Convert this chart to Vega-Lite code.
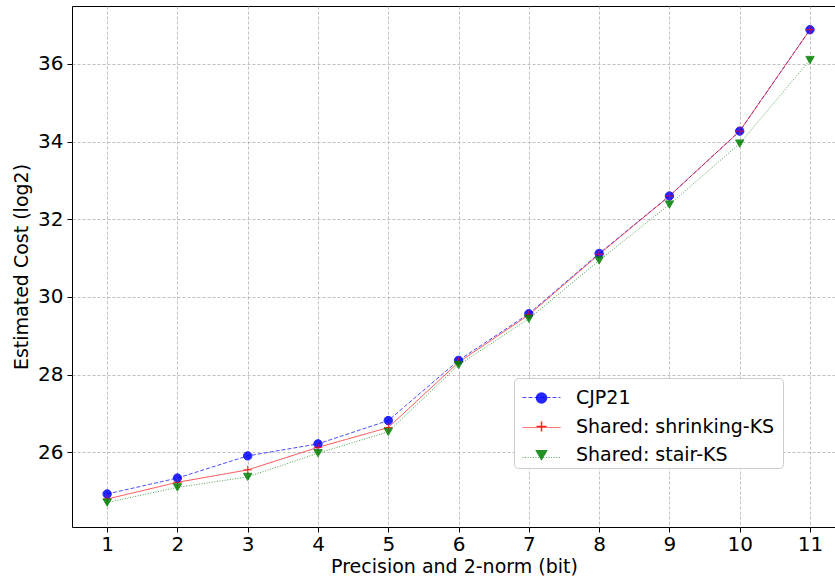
{
  "$schema": "https://vega.github.io/schema/vega-lite/v6.json",
  "width": 764,
  "height": 521,
  "autosize": {"type": "none"},
  "padding": {"left": 72, "top": 6, "right": 0, "bottom": 51},
  "background": "white",
  "config": {
    "font": "DejaVu Sans",
    "view": {"stroke": "black", "strokeWidth": 1},
    "axis": {
      "domain": false,
      "tickColor": "black",
      "tickSize": 5,
      "labelColor": "black",
      "labelFontSize": 20,
      "titleFontSize": 19,
      "titleFontWeight": "normal",
      "titleColor": "black",
      "gridColor": "#b0b0b0",
      "gridDash": [3, 2],
      "gridWidth": 0.8
    }
  },
  "data": {
    "values": [
      {"series": "CJP21", "bit": 1, "cost": 24.93},
      {"series": "CJP21", "bit": 2, "cost": 25.34},
      {"series": "CJP21", "bit": 3, "cost": 25.91},
      {"series": "CJP21", "bit": 4, "cost": 26.22},
      {"series": "CJP21", "bit": 5, "cost": 26.82},
      {"series": "CJP21", "bit": 6, "cost": 28.37},
      {"series": "CJP21", "bit": 7, "cost": 29.57},
      {"series": "CJP21", "bit": 8, "cost": 31.12},
      {"series": "CJP21", "bit": 9, "cost": 32.6},
      {"series": "CJP21", "bit": 10, "cost": 34.27},
      {"series": "CJP21", "bit": 11, "cost": 36.88},
      {"series": "Shared: shrinking-KS", "bit": 1, "cost": 24.8},
      {"series": "Shared: shrinking-KS", "bit": 2, "cost": 25.23},
      {"series": "Shared: shrinking-KS", "bit": 3, "cost": 25.55},
      {"series": "Shared: shrinking-KS", "bit": 4, "cost": 26.13},
      {"series": "Shared: shrinking-KS", "bit": 5, "cost": 26.64},
      {"series": "Shared: shrinking-KS", "bit": 6, "cost": 28.32},
      {"series": "Shared: shrinking-KS", "bit": 7, "cost": 29.54},
      {"series": "Shared: shrinking-KS", "bit": 8, "cost": 31.1},
      {"series": "Shared: shrinking-KS", "bit": 9, "cost": 32.6},
      {"series": "Shared: shrinking-KS", "bit": 10, "cost": 34.27},
      {"series": "Shared: shrinking-KS", "bit": 11, "cost": 36.88},
      {"series": "Shared: stair-KS", "bit": 1, "cost": 24.71},
      {"series": "Shared: stair-KS", "bit": 2, "cost": 25.1},
      {"series": "Shared: stair-KS", "bit": 3, "cost": 25.37},
      {"series": "Shared: stair-KS", "bit": 4, "cost": 25.98},
      {"series": "Shared: stair-KS", "bit": 5, "cost": 26.53},
      {"series": "Shared: stair-KS", "bit": 6, "cost": 28.25},
      {"series": "Shared: stair-KS", "bit": 7, "cost": 29.44},
      {"series": "Shared: stair-KS", "bit": 8, "cost": 30.94},
      {"series": "Shared: stair-KS", "bit": 9, "cost": 32.38},
      {"series": "Shared: stair-KS", "bit": 10, "cost": 33.95},
      {"series": "Shared: stair-KS", "bit": 11, "cost": 36.1}
    ]
  },
  "encoding": {
    "x": {
      "field": "bit",
      "type": "quantitative",
      "scale": {"domain": [0.5, 11.37], "nice": false, "zero": false},
      "axis": {"values": [1, 2, 3, 4, 5, 6, 7, 8, 9, 10, 11], "format": "d", "title": "Precision and 2-norm (bit)", "labelPadding": 2, "titlePadding": 3}
    },
    "y": {
      "field": "cost",
      "type": "quantitative",
      "scale": {"domain": [24.08, 37.49], "nice": false, "zero": false},
      "axis": {"values": [26, 28, 30, 32, 34, 36], "title": "Estimated Cost (log2)", "labelPadding": 4, "titlePadding": 6}
    }
  },
  "layer": [
    {
      "mark": {"type": "line", "strokeWidth": 1, "opacity": 0.7},
      "encoding": {
        "color": {
          "field": "series",
          "type": "nominal",
          "scale": {"domain": ["CJP21", "Shared: shrinking-KS", "Shared: stair-KS"], "range": ["#0000ff", "#ff0000", "#008000"]},
          "legend": {"orient": "none", "legendX": 442, "legendY": 372, "title": null, "symbolType": "stroke", "symbolSize": 1444, "symbolStrokeWidth": 1, "symbolOffset": 8, "labelFontSize": 19, "labelOpacity": 0, "labelLimit": 400, "labelOffset": 23, "fillColor": "white", "strokeColor": "#cccccc", "cornerRadius": 4, "padding": 0, "rowPadding": -10.5}
        },
        "strokeDash": {
          "field": "series",
          "type": "nominal",
          "scale": {"domain": ["CJP21", "Shared: shrinking-KS", "Shared: stair-KS"], "range": [[4, 2], [1, 0], [1, 1.6]]},
          "legend": {"orient": "none", "legendX": 442, "legendY": 372, "title": null, "symbolType": "stroke", "symbolSize": 1444, "symbolStrokeWidth": 1, "symbolOffset": 8, "labelFontSize": 19, "labelOpacity": 0, "labelLimit": 400, "labelOffset": 23, "fillColor": "white", "strokeColor": "#cccccc", "cornerRadius": 4, "padding": 0, "rowPadding": -10.5}
        }
      }
    },
    {
      "mark": {"type": "point", "filled": true, "size": 70, "strokeWidth": 1, "opacity": 0.85},
      "encoding": {
        "color": {
          "field": "series",
          "type": "nominal",
          "scale": {"domain": ["CJP21", "Shared: shrinking-KS", "Shared: stair-KS"], "range": ["#0000ff", "#ff0000", "#008000"]},
          "legend": {"orient": "none", "legendX": 442, "legendY": 382.5, "title": null, "labelFontSize": 19, "labelColor": "black", "labelLimit": 400, "padding": 0, "rowPadding": 8.5, "labelOffset": 25, "symbolOffset": 18}
        },
        "stroke": {
          "field": "series",
          "type": "nominal",
          "scale": {"domain": ["CJP21", "Shared: shrinking-KS", "Shared: stair-KS"], "range": ["#0000ff", "#ff0000", "#008000"]},
          "legend": {"orient": "none", "legendX": 442, "legendY": 382.5, "title": null, "labelFontSize": 19, "labelColor": "black", "labelLimit": 400, "padding": 0, "rowPadding": 8.5, "labelOffset": 25, "symbolOffset": 18}
        },
        "shape": {
          "field": "series",
          "type": "nominal",
          "scale": {"domain": ["CJP21", "Shared: shrinking-KS", "Shared: stair-KS"], "range": ["circle", "M-1,0H1M0,-1V1", "triangle-down"]},
          "legend": {"orient": "none", "legendX": 442, "legendY": 382.5, "title": null, "labelFontSize": 19, "labelColor": "black", "labelLimit": 400, "padding": 0, "rowPadding": 8.5, "labelOffset": 25, "symbolOffset": 18}
        }
      }
    }
  ],
  "resolve": {"legend": {"color": "independent", "shape": "independent", "strokeDash": "independent", "stroke": "independent"}}
}
